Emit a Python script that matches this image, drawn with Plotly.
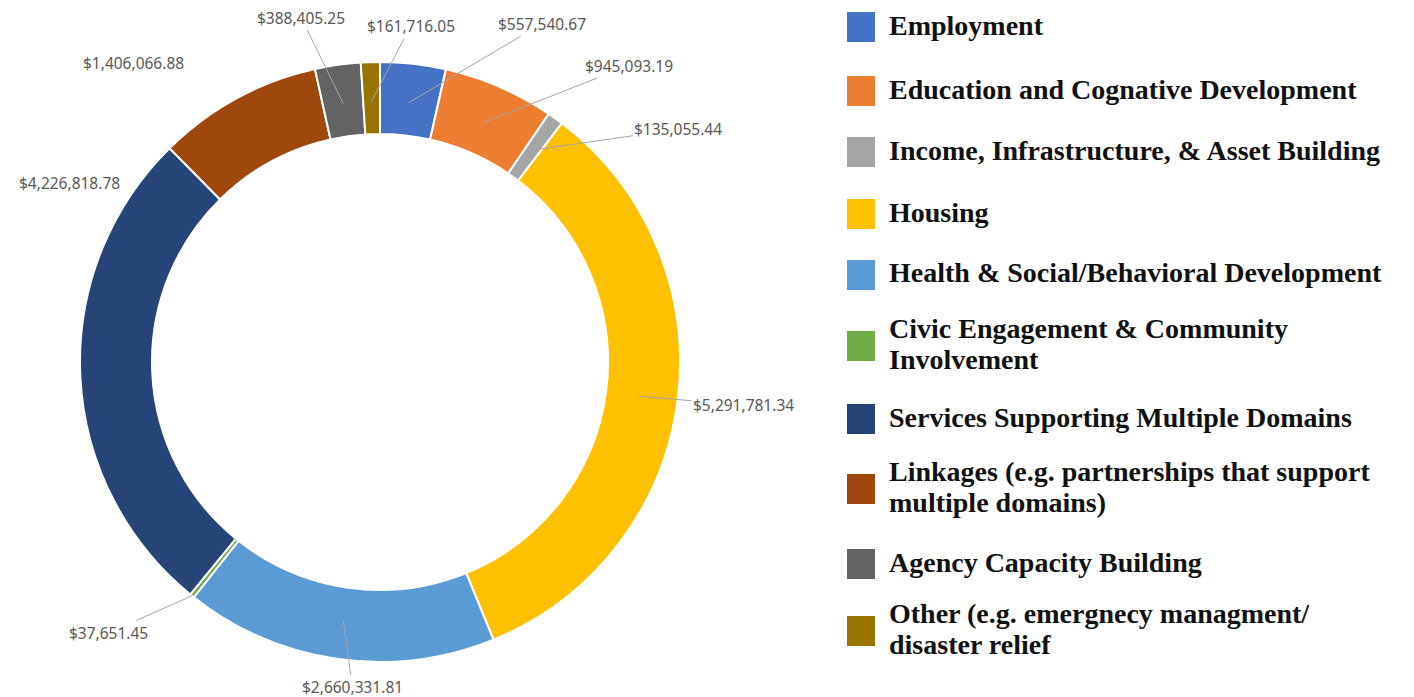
import math
import plotly.graph_objects as go

# ---------------- data ----------------
categories = [
    "Employment",
    "Education and Cognative Development",
    "Income, Infrastructure, & Asset Building",
    "Housing",
    "Health & Social/Behavioral Development",
    "Civic Engagement & Community Involvement",
    "Services Supporting Multiple Domains",
    "Linkages (e.g. partnerships that support multiple domains)",
    "Agency Capacity Building",
    "Other (e.g. emergnecy managment/ disaster relief",
]
legend_lines = [
    ["Employment"],
    ["Education and Cognative Development"],
    ["Income, Infrastructure, & Asset Building"],
    ["Housing"],
    ["Health & Social/Behavioral Development"],
    ["Civic Engagement & Community", "Involvement"],
    ["Services Supporting Multiple Domains"],
    ["Linkages (e.g. partnerships that support", "multiple domains)"],
    ["Agency Capacity Building"],
    ["Other (e.g. emergnecy managment/", "disaster relief"],
]
amounts = [557540.67, 945093.19, 135055.44, 5291781.34, 2660331.81,
           37651.45, 4226818.78, 1406066.88, 388405.25, 161716.05]
colors = ["#4472C4", "#ED7D31", "#A5A5A5", "#FFC000", "#5B9BD5",
          "#70AD47", "#264478", "#9E480E", "#636363", "#997300"]

# ---------------- layout constants (page pixels) ----------------
W, H = 1414, 697
PAGE_OFF = 8  # default body margin of the html page


def px2x(x):
    return (x - PAGE_OFF) / W


def px2y(y):
    return 1 - (y - PAGE_OFF) / H


CX, CY, R = 380, 362, 300
HOLE = 0.76
# arrow-head radius (fraction of R) and label offsets (px) per slice
head_r = [0.87, 0.87, 0.87, 0.87, 0.87, 1.0, 0.87, 0.87, 0.87, 0.87]
label_off = [(133, -79), (145, -57), (146, -21), (105, 9), (9, 67),
             (-84, 37), (-50, -191), (-122, -70), (-42, -86), (39, -75)]
show_line = [True, True, True, True, True, True, False, False, True, True]

fig = go.Figure()
fig.add_trace(go.Pie(
    labels=categories,
    values=amounts,
    hole=HOLE,
    sort=False,
    direction="clockwise",
    rotation=0,
    marker=dict(colors=colors, line=dict(color="white", width=2)),
    textinfo="none",
    showlegend=False,
    domain=dict(x=[px2x(CX - R), px2x(CX + R)],
                y=[px2y(CY + R), px2y(CY - R)]),
))

total = sum(amounts)
cum = 0.0
annotations = []
for i, v in enumerate(amounts):
    mid = (cum + v / 2) / total
    cum += v
    th = 2 * math.pi * mid
    rr = R * head_r[i]
    hx = CX + rr * math.sin(th)
    hy = CY - rr * math.cos(th)
    ax, ay = label_off[i]
    annotations.append(dict(
        x=px2x(hx), y=px2y(hy), xref="paper", yref="paper",
        text="${:,.2f}".format(v),
        showarrow=True, arrowhead=0, arrowwidth=1,
        arrowcolor="#A6A6A6" if show_line[i] else "rgba(0,0,0,0)",
        ax=ax, ay=ay, standoff=0, startstandoff=0,
        font=dict(family="Noto Sans, Open Sans, sans-serif", size=15.5, color="#595959"),
    ))

# ---------------- custom legend ----------------
leg_y = [27, 91, 152, 214, 275, 346, 419, 489, 564, 631]
LINE_H = 31
shapes = []
for i, lines in enumerate(legend_lines):
    y = leg_y[i]
    shapes.append(dict(type="rect", xref="paper", yref="paper",
                       x0=px2x(847), x1=px2x(875),
                       y0=px2y(y + 15), y1=px2y(y - 15),
                       fillcolor=colors[i], line=dict(width=0)))
    n = len(lines)
    for k, ln in enumerate(lines):
        ly = y + (k - (n - 1) / 2) * LINE_H - 2
        annotations.append(dict(
            x=px2x(887), y=px2y(ly), xref="paper", yref="paper",
            xanchor="left", yanchor="middle", align="left",
            text="<b>" + ln + "</b>", showarrow=False,
            font=dict(family="Liberation Serif, serif", size=28, color="#111111"),
        ))

fig.update_layout(
    width=W, height=H,
    margin=dict(l=0, r=0, t=0, b=0),
    paper_bgcolor="white",
    plot_bgcolor="white",
    annotations=annotations,
    shapes=shapes,
    showlegend=False,
)

fig.write_html("out.html")
